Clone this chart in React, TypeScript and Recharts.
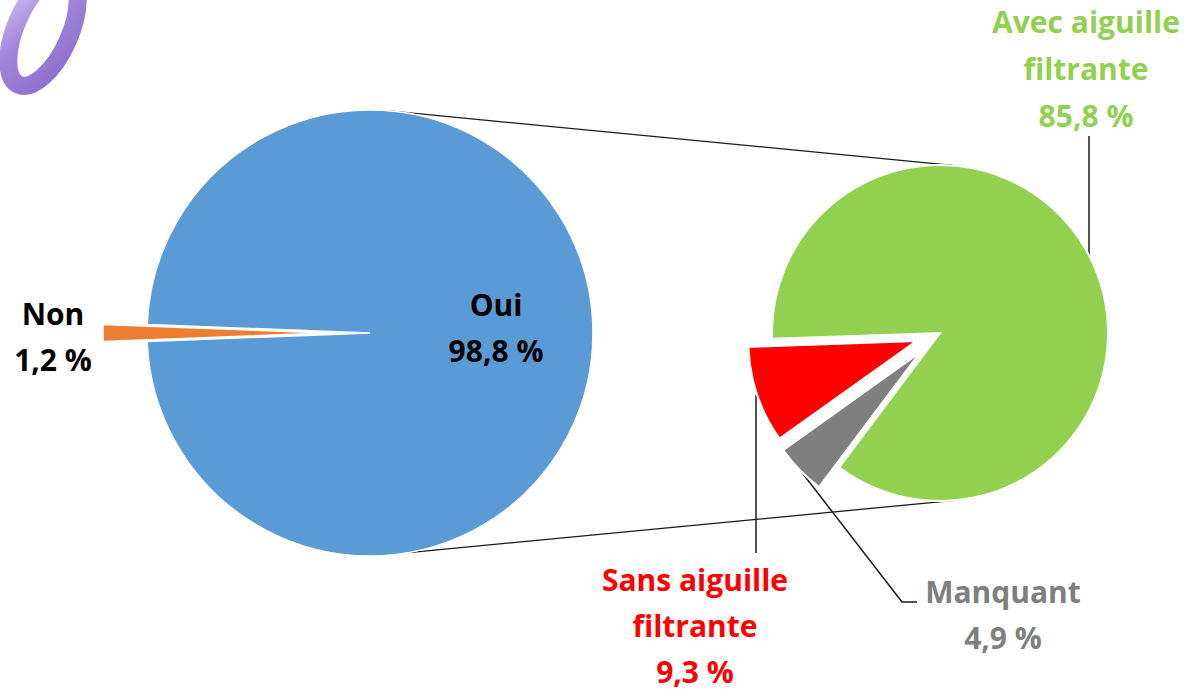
import React from 'react';
import { PieChart, Pie, Cell, Customized } from 'recharts';

// ---- data ----
const leftCategories = ['Non', 'Oui'];
const leftValues = [1.2, 98.8];
const leftColors = ['#ED7D31', '#5B9BD5'];

const rightCategories = ['Sans aiguille filtrante', 'Manquant', 'Avec aiguille filtrante'];
const rightValues = [9.3, 4.9, 85.8];
const rightColors = ['#FF0000', '#7F7F7F', '#92D050'];

const labelLinesOf: Record<string, string[]> = {
  Non: ['Non'],
  Oui: ['Oui'],
  'Sans aiguille filtrante': ['Sans aiguille', 'filtrante'],
  Manquant: ['Manquant'],
  'Avec aiguille filtrante': ['Avec aiguille', 'filtrante'],
};

// ---- layout / style ----
const W = 1189;
const H = 691;
const LEFT = { cx: 370, cy: 333, r: 223 };
const RIGHT = { cx: 940, cy: 333, r: 168 };
const leftStart = 180 - (leftValues[0] * 3.6) / 2;
const rightStart = 182;
const leftExplode = [44, 0];
const rightExplode = [25, 28, 0];

const labelPos: Record<string, { x: number; y: number; color: string; lh: number }> = {
  Non: { x: 53, y: 325, color: '#000000', lh: 46 },
  Oui: { x: 496, y: 316, color: '#000000', lh: 46 },
  'Avec aiguille filtrante': { x: 1086, y: 33, color: '#92D050', lh: 47 },
  'Sans aiguille filtrante': { x: 695, y: 591, color: '#FF0000', lh: 46 },
  Manquant: { x: 1003, y: 603, color: '#7F7F7F', lh: 46 },
};
const FONT = "'Open Sans', 'Liberation Sans', sans-serif";

const fmt = (v: number) => v.toFixed(1).replace('.', ',') + '\u00a0%';

const leftData = leftCategories.map((name, i) => ({ name, value: leftValues[i] }));
const rightData = rightCategories.map((name, i) => ({ name, value: rightValues[i] }));

function midAngle(start: number, values: number[], idx: number) {
  const total = values.reduce((a, b) => a + b, 0);
  let acc = 0;
  for (let i = 0; i < idx; i++) acc += values[i];
  return start + ((acc + values[idx] / 2) / total) * 360;
}

function shifted(base: { cx: number; cy: number }, angle: number, d: number) {
  const rad = (angle * Math.PI) / 180;
  return { cx: base.cx + d * Math.cos(rad), cy: base.cy - d * Math.sin(rad) };
}

function polar(c: { cx: number; cy: number }, r: number, angle: number) {
  const rad = (angle * Math.PI) / 180;
  return { x: c.cx + r * Math.cos(rad), y: c.cy - r * Math.sin(rad) };
}

function SliceLabel({ name, value }: { name: string; value: number }) {
  const p = labelPos[name];
  if (!p) return null;
  const lines = [...labelLinesOf[name], fmt(value)];
  return (
    <text textAnchor="middle" fontFamily={FONT} fontWeight={700} fontSize={30} fill={p.color}>
      {lines.map((t, i) => (
        <tspan key={i} x={p.x} y={p.y + i * p.lh}>
          {t}
        </tspan>
      ))}
    </text>
  );
}

function makeLabel(k: number, data: { name: string; value: number }[]) {
  return (props: any) => {
    if (props.index !== k) return null;
    const d = data[k];
    return <SliceLabel key={'lbl' + d.name} name={d.name} value={d.value} />;
  };
}

function Overlay() {
  const lt = polar(LEFT, LEFT.r, 85);
  const lb = polar(LEFT, LEFT.r, -80);
  const rt = polar(RIGHT, RIGHT.r, 84);
  const rb = polar(RIGHT, RIGHT.r, -84);
  const greenEdge = polar(RIGHT, RIGHT.r, 27.5);
  return (
    <g>
      <defs>
        <linearGradient id="ringGrad" x1="0" y1="0" x2="1" y2="1">
          <stop offset="0%" stopColor="#CDBDF0" />
          <stop offset="45%" stopColor="#A085DA" />
          <stop offset="100%" stopColor="#8C6FCB" />
        </linearGradient>
      </defs>
      <ellipse
        cx={43}
        cy={30}
        rx={27}
        ry={60}
        fill="none"
        stroke="url(#ringGrad)"
        strokeWidth={18}
        transform="rotate(24 43 30)"
      />
      {/* connectors between the pies */}
      <line x1={lt.x} y1={lt.y} x2={rt.x} y2={rt.y} stroke="#1a1a1a" strokeWidth={1.3} />
      <line x1={lb.x} y1={lb.y} x2={rb.x} y2={rb.y} stroke="#1a1a1a" strokeWidth={1.3} />
      {/* leader lines */}
      <line x1={greenEdge.x} y1={136} x2={greenEdge.x} y2={greenEdge.y} stroke="#1a1a1a" strokeWidth={1.5} />
      <polyline points="756,395 756,553" fill="none" stroke="#1a1a1a" strokeWidth={1.5} />
      <polyline points="800,470 902,602 917,602" fill="none" stroke="#1a1a1a" strokeWidth={1.5} />
    </g>
  );
}

export default function App() {
  const leftPies = leftData.map((_, k) => {
    const c = shifted(LEFT, midAngle(leftStart, leftValues, k), leftExplode[k]);
    return (
      <Pie
        key={'L' + k}
        data={leftData}
        dataKey="value"
        nameKey="name"
        cx={c.cx}
        cy={c.cy}
        outerRadius={LEFT.r}
        startAngle={leftStart}
        endAngle={leftStart + 360}
        isAnimationActive={false}
        label={makeLabel(k, leftData)}
        labelLine={false}
      >
        {leftData.map((d, i) => (
          <Cell
            key={d.name}
            fill={i === k ? leftColors[i] : 'transparent'}
            stroke={i === k ? '#ffffff' : 'none'}
            strokeWidth={1.5}
          />
        ))}
      </Pie>
    );
  });
  const rightPies = rightData.map((_, k) => {
    const c = shifted(RIGHT, midAngle(rightStart, rightValues, k), rightExplode[k]);
    return (
      <Pie
        key={'R' + k}
        data={rightData}
        dataKey="value"
        nameKey="name"
        cx={c.cx}
        cy={c.cy}
        outerRadius={RIGHT.r}
        startAngle={rightStart}
        endAngle={rightStart + 360}
        isAnimationActive={false}
        label={makeLabel(k, rightData)}
        labelLine={false}
      >
        {rightData.map((d, i) => (
          <Cell
            key={d.name}
            fill={i === k ? rightColors[i] : 'transparent'}
            stroke={i === k ? '#ffffff' : 'none'}
            strokeWidth={2}
          />
        ))}
      </Pie>
    );
  });
  return (
    <div style={{ position: 'absolute', left: 0, top: 0, width: W, height: H, background: '#ffffff' }}>
      <PieChart width={W} height={H} margin={{ top: 0, right: 0, bottom: 0, left: 0 }}>
        <Customized component={<Overlay />} />
        {leftPies}
        {rightPies}
      </PieChart>
    </div>
  );
}
